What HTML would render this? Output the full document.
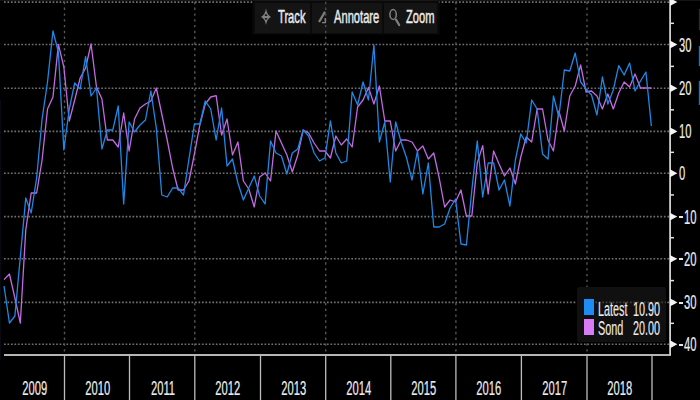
<!DOCTYPE html>
<html><head><meta charset="utf-8"><style>
html,body{margin:0;padding:0;background:#000;}
body{width:700px;height:400px;position:relative;overflow:hidden;font-family:"Liberation Sans",sans-serif;}
svg{position:absolute;left:0;top:0;}
.txt{position:absolute;color:#ececec;font-size:18.6px;line-height:20px;white-space:nowrap;transform-origin:0 0;transform:scaleX(0.6);-webkit-text-stroke:0.45px #ececec;}
.yr{position:absolute;top:378px;width:40px;text-align:center;color:#ececec;font-size:19.5px;line-height:20px;}
.yr span{display:inline-block;transform:scaleX(0.575);-webkit-text-stroke:0.2px #ececec;}
.tl{position:absolute;left:679px;color:#ececec;font-size:19.5px;line-height:20px;transform-origin:0 0;transform:scaleX(0.575);-webkit-text-stroke:0.2px #ececec;}
.btn{position:absolute;top:3px;height:29.5px;background:rgba(22,22,22,0.88);}
</style></head><body>
<svg width="700" height="400" viewBox="0 0 700 400">
<rect x="0" y="0" width="700" height="1" fill="#141414"/>
<g stroke="#707070" stroke-width="1.6" stroke-dasharray="1.7 1.773" fill="none"><line x1="4" y1="2.10" x2="669" y2="2.10"/><line x1="4" y1="44.50" x2="669" y2="44.50"/><line x1="4" y1="88.25" x2="669" y2="88.25"/><line x1="4" y1="131.40" x2="669" y2="131.40"/><line x1="4" y1="173.25" x2="669" y2="173.25"/><line x1="4" y1="216.60" x2="669" y2="216.60"/><line x1="4" y1="258.80" x2="669" y2="258.80"/><line x1="4" y1="302.40" x2="669" y2="302.40"/><line x1="4" y1="344.25" x2="669" y2="344.25"/></g>
<g stroke="#565656" stroke-width="1.4" stroke-dasharray="2.4 3.39" stroke-dashoffset="3.99" fill="none"><line x1="64.5" y1="0" x2="64.5" y2="353"/><line x1="194.8" y1="0" x2="194.8" y2="353"/><line x1="325.7" y1="0" x2="325.7" y2="353"/><line x1="455.9" y1="0" x2="455.9" y2="353"/><line x1="587" y1="0" x2="587" y2="353"/></g>
<path d="M4.00,279.60 L9.44,274.00 L14.88,298.00 L20.32,323.00 L25.76,230.00 L31.20,193.00 L36.64,193.00 L42.08,160.00 L47.52,109.00 L52.96,97.00 L58.40,44.40 L63.84,67.00 L69.28,121.00 L74.72,100.00 L80.16,78.00 L85.60,68.00 L91.04,44.00 L96.48,87.00 L101.92,99.00 L107.36,140.00 L112.80,140.00 L118.24,147.00 L123.68,113.00 L129.12,151.00 L134.56,119.00 L140.00,108.00 L145.44,104.00 L150.88,101.00 L156.32,88.00 L161.76,114.00 L167.20,140.00 L172.64,168.00 L178.08,190.00 L183.52,190.00 L188.96,181.00 L194.40,154.00 L199.84,125.00 L205.28,104.00 L210.72,97.00 L216.16,95.60 L221.60,135.00 L227.04,119.00 L232.48,155.00 L237.92,142.00 L243.36,181.00 L248.80,189.00 L254.24,207.00 L259.68,177.00 L265.12,173.00 L270.56,181.00 L276.00,131.00 L281.44,143.00 L286.88,155.00 L292.32,172.00 L297.76,155.00 L303.20,130.00 L308.64,133.00 L314.08,143.00 L319.52,151.00 L324.96,151.00 L330.40,158.00 L335.84,136.00 L341.28,145.00 L346.72,139.00 L352.16,147.00 L357.60,107.00 L363.04,100.00 L368.48,87.40 L373.92,104.00 L379.36,86.00 L384.80,121.00 L390.24,121.00 L395.68,151.00 L401.12,140.00 L406.56,140.00 L412.00,142.00 L417.44,151.00 L422.88,146.00 L428.32,159.00 L433.76,153.00 L439.20,178.00 L444.64,207.00 L450.08,200.00 L455.52,202.00 L460.96,190.00 L466.40,216.00 L471.84,216.00 L477.28,163.00 L482.72,145.60 L488.16,194.00 L493.60,151.00 L499.04,164.00 L504.48,176.00 L509.92,168.00 L515.36,184.00 L520.80,157.00 L526.24,137.00 L531.68,142.00 L537.12,109.00 L542.56,109.00 L548.00,140.00 L553.44,151.00 L558.88,111.00 L564.32,131.00 L569.76,96.00 L575.20,86.00 L580.64,65.00 L586.08,92.00 L591.52,91.00 L596.96,96.00 L602.40,109.00 L607.84,94.00 L613.28,109.00 L618.72,93.00 L624.16,82.00 L629.60,87.00 L635.04,74.00 L640.48,88.00 L645.92,88.00 L651.36,88.00" fill="none" stroke="#c26ae2" stroke-width="1.3" stroke-linejoin="round"/>
<path d="M4.00,286.00 L9.44,323.00 L14.88,316.00 L20.32,257.00 L25.76,198.00 L31.20,213.00 L36.64,178.00 L42.08,119.00 L47.52,82.00 L52.96,31.00 L58.40,52.00 L63.84,150.00 L69.28,109.00 L74.72,83.00 L80.16,89.00 L85.60,56.60 L91.04,96.00 L96.48,88.00 L101.92,149.00 L107.36,130.00 L112.80,130.00 L118.24,106.00 L123.68,204.00 L129.12,122.00 L134.56,132.00 L140.00,125.00 L145.44,120.00 L150.88,91.00 L156.32,128.00 L161.76,195.00 L167.20,197.00 L172.64,188.00 L178.08,188.00 L183.52,195.00 L188.96,159.00 L194.40,124.00 L199.84,124.00 L205.28,101.00 L210.72,109.00 L216.16,140.00 L221.60,108.00 L227.04,166.00 L232.48,159.00 L237.92,183.00 L243.36,200.00 L248.80,188.00 L254.24,176.00 L259.68,196.00 L265.12,204.00 L270.56,141.00 L276.00,153.00 L281.44,156.00 L286.88,174.00 L292.32,153.00 L297.76,149.00 L303.20,130.00 L308.64,136.00 L314.08,153.00 L319.52,161.00 L324.96,158.00 L330.40,121.00 L335.84,153.00 L341.28,163.00 L346.72,161.00 L352.16,92.00 L357.60,105.00 L363.04,82.00 L368.48,100.00 L373.92,45.00 L379.36,142.00 L384.80,122.00 L390.24,182.00 L395.68,122.00 L401.12,142.00 L406.56,158.00 L412.00,180.00 L417.44,151.00 L422.88,194.00 L428.32,163.00 L433.76,227.00 L439.20,227.00 L444.64,224.00 L450.08,208.00 L455.52,199.00 L460.96,244.00 L466.40,245.00 L471.84,190.00 L477.28,141.00 L482.72,197.00 L488.16,163.00 L493.60,163.00 L499.04,190.00 L504.48,180.00 L509.92,206.00 L515.36,160.00 L520.80,134.00 L526.24,143.00 L531.68,100.00 L537.12,109.00 L542.56,154.00 L548.00,159.00 L553.44,96.00 L558.88,117.00 L564.32,70.00 L569.76,71.00 L575.20,53.00 L580.64,82.00 L586.08,89.00 L591.52,95.00 L596.96,115.00 L602.40,77.00 L607.84,104.00 L613.28,90.00 L618.72,65.60 L624.16,75.00 L629.60,63.00 L635.04,91.00 L640.48,81.00 L645.92,72.00 L651.36,126.00" fill="none" stroke="#1e88e6" stroke-width="1.3" stroke-linejoin="round"/>
<rect x="252.5" y="0" width="187" height="34.5" fill="#0a0a0a"/>
<rect x="252.5" y="0" width="187" height="1" fill="#161616"/>
<line x1="4" y1="355" x2="671" y2="355" stroke="#f2f2f2" stroke-width="1.6"/>
<g stroke="#bdbdbd" stroke-width="1.3"><line x1="64.5" y1="355" x2="64.5" y2="400"/><line x1="129.5" y1="355" x2="129.5" y2="400"/><line x1="194.8" y1="355" x2="194.8" y2="400"/><line x1="260.5" y1="355" x2="260.5" y2="400"/><line x1="325.7" y1="355" x2="325.7" y2="400"/><line x1="390.8" y1="355" x2="390.8" y2="400"/><line x1="455.9" y1="355" x2="455.9" y2="400"/><line x1="521.4" y1="355" x2="521.4" y2="400"/><line x1="587" y1="355" x2="587" y2="400"/><line x1="652" y1="355" x2="652" y2="400"/></g>
<line x1="670.1" y1="0" x2="670.1" y2="355" stroke="#d0d0d0" stroke-width="1.8"/>
<path d="M670,-1.80 Q673.5,0.00 677.4,2.10 Q673.5,4.20 670,6.00 Z" fill="#f4f4f4"/><path d="M670,40.60 Q673.5,42.40 677.4,44.50 Q673.5,46.60 670,48.40 Z" fill="#f4f4f4"/><path d="M670,84.35 Q673.5,86.15 677.4,88.25 Q673.5,90.35 670,92.15 Z" fill="#f4f4f4"/><path d="M670,127.50 Q673.5,129.30 677.4,131.40 Q673.5,133.50 670,135.30 Z" fill="#f4f4f4"/><path d="M670,169.35 Q673.5,171.15 677.4,173.25 Q673.5,175.35 670,177.15 Z" fill="#f4f4f4"/><path d="M670,212.70 Q673.5,214.50 677.4,216.60 Q673.5,218.70 670,220.50 Z" fill="#f4f4f4"/><path d="M670,254.90 Q673.5,256.70 677.4,258.80 Q673.5,260.90 670,262.70 Z" fill="#f4f4f4"/><path d="M670,298.50 Q673.5,300.30 677.4,302.40 Q673.5,304.50 670,306.30 Z" fill="#f4f4f4"/><path d="M670,340.35 Q673.5,342.15 677.4,344.25 Q673.5,346.35 670,348.15 Z" fill="#f4f4f4"/><line x1="670" y1="23.30" x2="674" y2="23.30" stroke="#e0e0e0" stroke-width="1.5"/><line x1="670" y1="66.38" x2="674" y2="66.38" stroke="#e0e0e0" stroke-width="1.5"/><line x1="670" y1="109.83" x2="674" y2="109.83" stroke="#e0e0e0" stroke-width="1.5"/><line x1="670" y1="152.32" x2="674" y2="152.32" stroke="#e0e0e0" stroke-width="1.5"/><line x1="670" y1="194.93" x2="674" y2="194.93" stroke="#e0e0e0" stroke-width="1.5"/><line x1="670" y1="237.70" x2="674" y2="237.70" stroke="#e0e0e0" stroke-width="1.5"/><line x1="670" y1="280.60" x2="674" y2="280.60" stroke="#e0e0e0" stroke-width="1.5"/><line x1="670" y1="323.32" x2="674" y2="323.32" stroke="#e0e0e0" stroke-width="1.5"/>
<rect x="698.8" y="9" width="1.2" height="21" fill="#2a2a2a"/>
<rect x="698.8" y="46" width="1.2" height="20" fill="#1d6fc0"/>
<rect x="698.8" y="81" width="1.2" height="24" fill="#1d6fc0"/>
<rect x="0" y="100" width="1" height="260" fill="#060a12"/>
</svg>
<div class="btn" style="left:255px;width:54.5px"></div>
<div class="btn" style="left:312px;width:69.5px"></div>
<div class="btn" style="left:383.5px;width:53.5px"></div>
<svg width="700" height="40" viewBox="0 0 700 40" style="position:absolute;left:0;top:0"><line x1="325.7" y1="0" x2="325.7" y2="36" stroke="#4c4c4c" stroke-width="1.4" stroke-dasharray="2.4 3.39" stroke-dashoffset="3.99"/><g fill="#808080">
<path d="M266,8.3 Q266.8,14.8 271,17 Q266.8,19.2 266,25 Q265.2,19.2 261,17 Q265.2,14.8 266,8.3 Z"/>
</g>
<ellipse cx="266" cy="15.2" rx="1.3" ry="0.9" fill="#161616"/>
<ellipse cx="266" cy="18.8" rx="1.3" ry="0.9" fill="#161616"/>
<path d="M319,22 L325,11.8" stroke="#808080" stroke-width="2.2" fill="none"/>
<path d="M322,22.6 L326,22.6 M325.3,22.6 L325.3,18" stroke="#808080" stroke-width="1.4" fill="none"/>
<ellipse cx="393.1" cy="14.5" rx="3.2" ry="4.9" stroke="#808080" stroke-width="1.5" fill="none"/>
<path d="M396,19.6 L399.2,25" stroke="#808080" stroke-width="2.2" fill="none" stroke-linecap="round"/>
</svg>
<div class="txt" style="left:277.5px;top:7px">Track</div>
<div class="txt" style="left:333.5px;top:7px">Annotare</div>
<div class="txt" style="left:405.5px;top:7px">Zoom</div>
<div class="yr" style="left:12.5px"><span>2009</span></div><div class="yr" style="left:76.0px"><span>2010</span></div><div class="yr" style="left:141.7px"><span>2011</span></div><div class="yr" style="left:206.2px"><span>2012</span></div><div class="yr" style="left:271.6px"><span>2013</span></div><div class="yr" style="left:336.8px"><span>2014</span></div><div class="yr" style="left:402.2px"><span>2015</span></div><div class="yr" style="left:467.1px"><span>2016</span></div><div class="yr" style="left:532.7px"><span>2017</span></div><div class="yr" style="left:598.0px"><span>2018</span></div>
<div class="tl" style="top:34.5px">30</div><div class="tl" style="top:78.2px">20</div><div class="tl" style="top:121.4px">10</div><div class="tl" style="top:163.2px">0</div><div class="tl" style="left:683.6px;top:206.6px">10</div><div style="position:absolute;left:679.3px;top:215.95px;width:3.4px;height:2px;background:#e6e6e6"></div><div class="tl" style="left:683.6px;top:248.8px">20</div><div style="position:absolute;left:679.3px;top:258.15px;width:3.4px;height:2px;background:#e6e6e6"></div><div class="tl" style="left:683.6px;top:292.4px">30</div><div style="position:absolute;left:679.3px;top:301.75px;width:3.4px;height:2px;background:#e6e6e6"></div><div class="tl" style="left:683.6px;top:334.2px">40</div><div style="position:absolute;left:679.3px;top:343.60px;width:3.4px;height:2px;background:#e6e6e6"></div>
<div style="position:absolute;left:577px;top:287px;width:89px;height:55px;background:#101010;border-radius:2px"></div>
<div style="position:absolute;left:584px;top:299px;width:10px;height:16px;background:#1f8cf5"></div>
<div style="position:absolute;left:584px;top:319px;width:10px;height:16px;background:#d87bf5"></div>
<svg width="700" height="400" style="position:absolute;left:0;top:0"><line x1="595" y1="302.4" x2="666" y2="302.4" stroke="#7c7c7c" stroke-opacity="0.45" stroke-width="1.6" stroke-dasharray="1.7 1.773" stroke-dashoffset="-0.3"/></svg>
<div class="txt" style="left:597.5px;top:298.5px;transform:scaleX(0.545);font-size:19.9px;-webkit-text-stroke:0.15px #ececec">Latest</div>
<div class="txt" style="left:633.2px;top:298.5px;transform:scaleX(0.545);font-size:19.9px;-webkit-text-stroke:0.15px #ececec">10.90</div>
<div class="txt" style="left:597.5px;top:318px;transform:scaleX(0.545);font-size:19.9px;-webkit-text-stroke:0.15px #ececec">Sond</div>
<div class="txt" style="left:632.8px;top:318px;transform:scaleX(0.545);font-size:19.9px;-webkit-text-stroke:0.15px #ececec">20.00</div>
</body></html>
